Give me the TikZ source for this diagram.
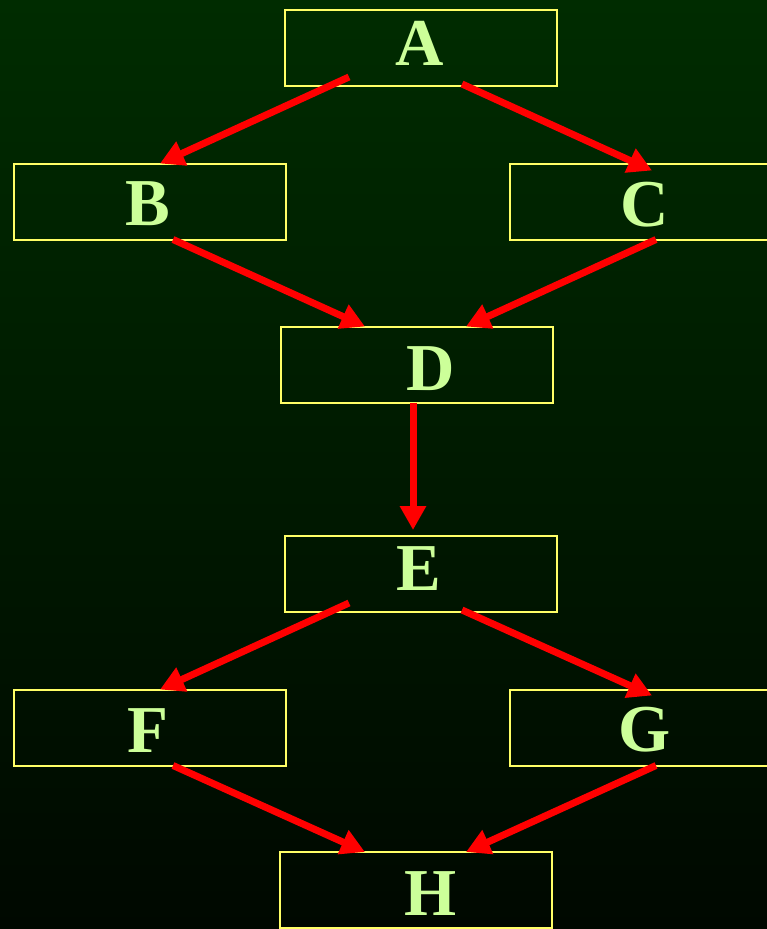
\documentclass[tikz,border=0pt]{standalone}
\usepackage{fontspec}
\setmainfont{Liberation Serif}
\usetikzlibrary{arrows.meta}
\definecolor{bgtop}{RGB}{0,44,0}
\definecolor{bgbot}{RGB}{0,8,0}
\definecolor{boxline}{RGB}{255,255,102}
\definecolor{lettercol}{RGB}{204,255,153}
\definecolor{flow}{RGB}{255,0,0}

\begin{document}
\begin{tikzpicture}[x=1pt,y=-1pt,
  box/.style={draw=boxline, line width=2pt, minimum width=272pt, minimum height=76pt,
    inner sep=0pt, outer sep=0pt},
  letterstyle/.style={text=lettercol, font=\fontsize{67}{70}\selectfont\bfseries, inner sep=0pt},
  flowarrow/.style={draw=flow, line width=7pt, -{Triangle[length=24pt,width=25pt]}}]

% page and background gradient
\useasboundingbox (0,0) rectangle (767,929);
\clip (0,0) rectangle (767,929);
\shade[top color=bgtop, bottom color=bgbot] (0,0) rectangle (767,929);

% boxes
\node[box, label={[letterstyle, xshift=-1.5pt, yshift=5pt]center:A}]   (A) at (421,48)    {};
\node[box, label={[letterstyle, xshift=-2pt, yshift=-2pt]center:B}] (B) at (150,201.5) {};
\node[box, label={[letterstyle, xshift=-1.5pt, yshift=-3pt]center:C}]  (C) at (646,201.5) {};
\node[box, label={[letterstyle, xshift=14pt, yshift=-4pt]center:D}] (D) at (417,364.5) {};
\node[box, label={[letterstyle, xshift=-2.5pt, yshift=5pt]center:E}]   (E) at (421,574)   {};
\node[box, label={[letterstyle, xshift=-2.5pt, yshift=-3pt]center:F}]  (F) at (150,727.5) {};
\node[box, label={[letterstyle, xshift=-1.5pt, yshift=-2.5pt]center:G}] (G) at (646,727.5) {};
\node[box, label={[letterstyle, xshift=15pt, yshift=-4pt]center:H}] (H) at (416,890)   {};

% connectors
\draw[flowarrow] ([xshift=64pt,yshift=9pt]A.south west)  -- ([xshift=146pt]B.north west);
\draw[flowarrow] ([xshift=177pt,yshift=2pt]A.south west) -- ([xshift=142pt,yshift=-7pt]C.north west);
\draw[flowarrow] ([xshift=159pt]B.south west) -- ([xshift=84pt]D.north west);
\draw[flowarrow] ([xshift=146pt]C.south west) -- ([xshift=185pt]D.north west);
\draw[flowarrow] ([xshift=132pt]D.south west) -- ([xshift=128pt,yshift=6pt]E.north west);
\draw[flowarrow] ([xshift=64pt,yshift=9pt]E.south west)  -- ([xshift=146pt]F.north west);
\draw[flowarrow] ([xshift=177pt,yshift=2pt]E.south west) -- ([xshift=142pt,yshift=-6pt]G.north west);
\draw[flowarrow] ([xshift=159pt]F.south west) -- ([xshift=85pt]H.north west);
\draw[flowarrow] ([xshift=146pt]G.south west) -- ([xshift=186pt]H.north west);
\end{tikzpicture}
\end{document}
